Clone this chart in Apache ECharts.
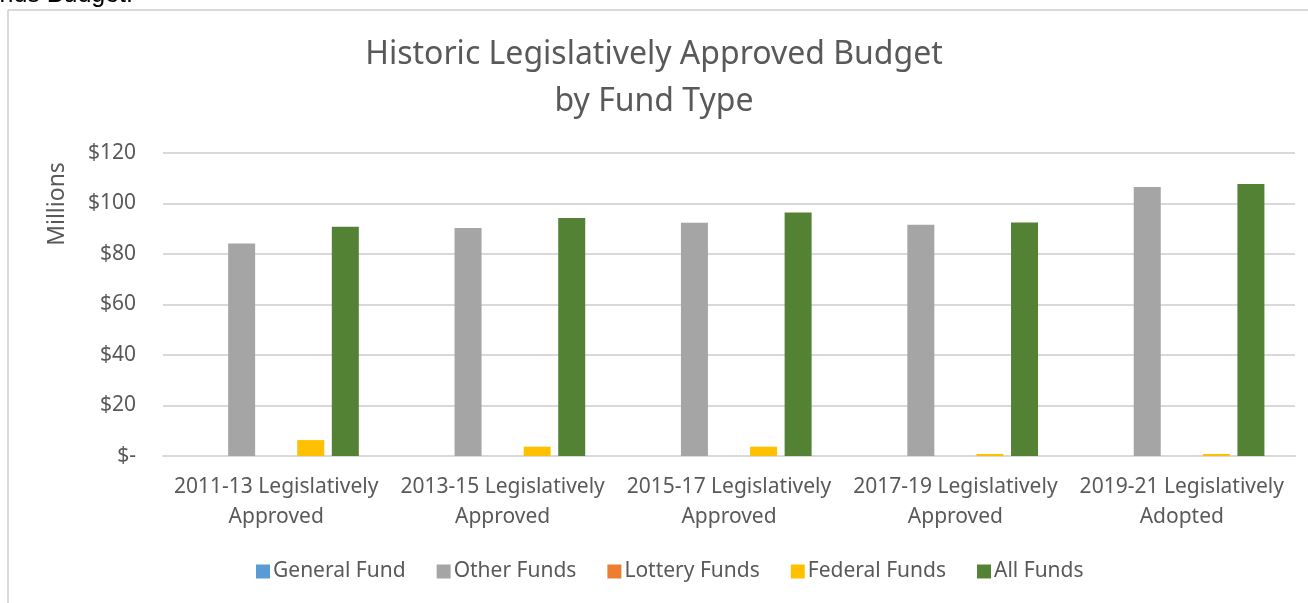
<!DOCTYPE html>
<html>
<head>
<meta charset="utf-8">
<script src="https://cdn.jsdelivr.net/npm/echarts@6/dist/echarts.min.js"></script>
<style>
html,body{margin:0;padding:0;background:#fff;}
#chart{width:1308px;height:603px;}
</style>
</head>
<body>
<div id="chart"></div>
<script>
var categories = ['2011-13 Legislatively\nApproved','2013-15 Legislatively\nApproved','2015-17 Legislatively\nApproved','2017-19 Legislatively\nApproved','2019-21 Legislatively\nAdopted'];
var generalFund = [0, 0, 0, 0, 0];
var otherFunds = [84.2, 90.3, 92.4, 91.6, 106.5];
var lotteryFunds = [0, 0, 0, 0, 0];
var federalFunds = [6.3, 3.7, 3.7, 0.8, 0.8];
var allFunds = [90.8, 94.3, 96.4, 92.5, 107.7];
var seriesNames = ['General Fund','Other Funds','Lottery Funds','Federal Funds','All Funds'];
var seriesColors = ['#5B9BD5','#A5A5A5','#ED7D31','#FFC000','#548235'];
var yAxisName = 'Millions';

var FONT = 'Noto Sans';
var TXT = '#595959';
var chart = echarts.init(document.getElementById('chart'));
var dataSets = [generalFund, otherFunds, lotteryFunds, federalFunds, allFunds];
var series = dataSets.map(function(d, i){
  return {
    name: seriesNames[i], type: 'bar', data: d,
    barWidth: 27, barGap: '28%',
    itemStyle: {color: seriesColors[i]}
  };
});
chart.setOption({
  animation: false,
  backgroundColor: '#fff',
  title: {
    text: 'Historic Legislatively Approved Budget\nby Fund Type',
    left: 'center', top: 26,
    textStyle: {fontFamily: FONT, fontSize: 32, fontWeight: 'normal', color: TXT, lineHeight: 47}
  },
  legend: {
    data: seriesNames, bottom: 16, left: 251,
    itemWidth: 14, itemHeight: 14, itemGap: 31, icon: 'rect',
    textStyle: {fontFamily: FONT, fontSize: 21, color: TXT, padding: [0,0,0,-2]}
  },
  grid: {left: 163, right: 13, top: 153, bottom: 147},
  xAxis: {
    type: 'category', data: categories,
    axisLine: {lineStyle: {color: '#D9D9D9', width: 2}},
    axisTick: {show: false},
    axisLabel: {fontFamily: FONT, fontSize: 21, color: TXT, lineHeight: 30, margin: 16, interval: 0}
  },
  yAxis: {
    type: 'value', min: 0, max: 120, interval: 20,
    axisLine: {show: false}, axisTick: {show: false},
    splitLine: {lineStyle: {color: '#D9D9D9', width: 2}},
    axisLabel: {fontFamily: FONT, fontSize: 21, color: TXT, margin: 27,
      formatter: function(v){ return v === 0 ? '$-' : '$' + v; }}
  },
  graphic: [
    {type: 'line', shape: {x1: 8, y1: 10, x2: 1308, y2: 10}, style: {stroke: '#D9D9D9', lineWidth: 2}, silent: true},
    {type: 'line', shape: {x1: 8, y1: 10, x2: 8, y2: 603}, style: {stroke: '#D9D9D9', lineWidth: 2}, silent: true},
    {type: 'text', x: 133, y: 8, style: {text: 'Funds Budget.', font: '25px "Liberation Sans"', fill: '#000', align: 'right', verticalAlign: 'bottom'}, silent: true},
    {type: 'text', x: 57, y: 204, rotation: Math.PI / 2, style: {text: yAxisName, font: '23px "Noto Sans"', fill: TXT, align: 'center', verticalAlign: 'middle'}, silent: true}
  ],
  series: series
});
</script>
</body>
</html>
